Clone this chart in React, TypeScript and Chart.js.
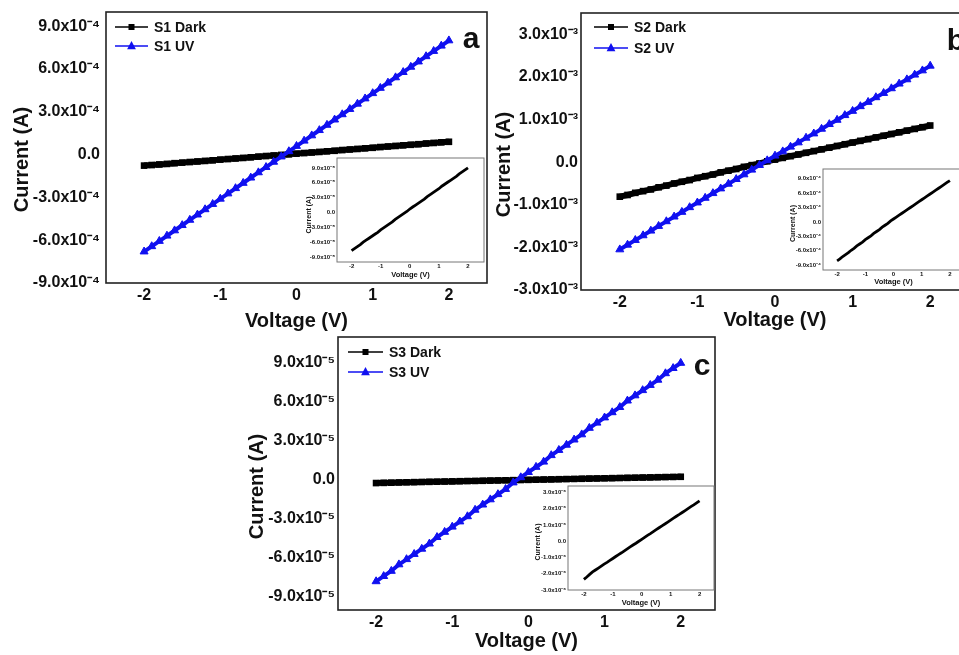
import React, { useEffect, useRef } from 'react';
import { Chart, registerables } from 'chart.js';

Chart.register(...registerables);

// ---------------- data ----------------
const VOLTAGE = [-2.0, -1.9, -1.8, -1.7, -1.6, -1.5, -1.4, -1.3, -1.2, -1.1, -1.0, -0.9, -0.8, -0.7, -0.6, -0.5, -0.4, -0.3, -0.2, -0.1, 0.0, 0.1, 0.2, 0.3, 0.4, 0.5, 0.6, 0.7, 0.8, 0.9, 1.0, 1.1, 1.2, 1.3, 1.4, 1.5, 1.6, 1.7, 1.8, 1.9, 2.0];

const S1_DARK = [-7.7e-5, -7.3e-5, -6.9e-5, -6.5e-5, -6.0e-5, -5.6e-5, -5.2e-5, -4.8e-5, -4.4e-5, -4.0e-5, -3.5e-5, -3.1e-5, -2.7e-5, -2.3e-5, -1.9e-5, -1.4e-5, -1.0e-5, -0.6e-5, -0.2e-5, 0.2e-5, 0.7e-5, 1.1e-5, 1.5e-5, 1.9e-5, 2.3e-5, 2.7e-5, 3.2e-5, 3.6e-5, 4.0e-5, 4.4e-5, 4.8e-5, 5.3e-5, 5.7e-5, 6.1e-5, 6.5e-5, 6.9e-5, 7.3e-5, 7.8e-5, 8.2e-5, 8.6e-5, 9.0e-5];
const S1_UV = [-6.80e-4, -6.43e-4, -6.06e-4, -5.69e-4, -5.32e-4, -4.95e-4, -4.58e-4, -4.21e-4, -3.84e-4, -3.47e-4, -3.10e-4, -2.73e-4, -2.36e-4, -1.99e-4, -1.62e-4, -1.25e-4, -0.88e-4, -0.51e-4, -0.14e-4, 0.23e-4, 0.60e-4, 0.97e-4, 1.34e-4, 1.71e-4, 2.08e-4, 2.45e-4, 2.82e-4, 3.19e-4, 3.56e-4, 3.93e-4, 4.30e-4, 4.67e-4, 5.04e-4, 5.41e-4, 5.78e-4, 6.15e-4, 6.52e-4, 6.89e-4, 7.26e-4, 7.63e-4, 8.00e-4];

const S2_DARK = [-0.81e-3, -0.77e-3, -0.72e-3, -0.68e-3, -0.64e-3, -0.59e-3, -0.55e-3, -0.50e-3, -0.46e-3, -0.42e-3, -0.37e-3, -0.33e-3, -0.29e-3, -0.24e-3, -0.20e-3, -0.16e-3, -0.11e-3, -0.07e-3, -0.03e-3, 0.02e-3, 0.06e-3, 0.10e-3, 0.14e-3, 0.18e-3, 0.22e-3, 0.26e-3, 0.30e-3, 0.34e-3, 0.38e-3, 0.42e-3, 0.46e-3, 0.50e-3, 0.54e-3, 0.58e-3, 0.62e-3, 0.66e-3, 0.70e-3, 0.74e-3, 0.78e-3, 0.82e-3, 0.86e-3];
const S2_UV = [-2.05e-3, -1.94e-3, -1.83e-3, -1.72e-3, -1.61e-3, -1.50e-3, -1.39e-3, -1.28e-3, -1.17e-3, -1.06e-3, -0.95e-3, -0.84e-3, -0.73e-3, -0.62e-3, -0.51e-3, -0.40e-3, -0.29e-3, -0.18e-3, -0.07e-3, 0.04e-3, 0.15e-3, 0.25e-3, 0.36e-3, 0.46e-3, 0.57e-3, 0.67e-3, 0.78e-3, 0.89e-3, 0.99e-3, 1.10e-3, 1.20e-3, 1.31e-3, 1.41e-3, 1.52e-3, 1.62e-3, 1.73e-3, 1.84e-3, 1.94e-3, 2.05e-3, 2.15e-3, 2.26e-3];

const S3_DARK = [-2.35e-6, -2.20e-6, -2.04e-6, -1.89e-6, -1.77e-6, -1.65e-6, -1.53e-6, -1.41e-6, -1.30e-6, -1.18e-6, -1.06e-6, -0.94e-6, -0.82e-6, -0.71e-6, -0.59e-6, -0.47e-6, -0.35e-6, -0.23e-6, -0.12e-6, 0.00e-6, 0.12e-6, 0.24e-6, 0.36e-6, 0.47e-6, 0.59e-6, 0.71e-6, 0.83e-6, 0.95e-6, 1.06e-6, 1.18e-6, 1.30e-6, 1.42e-6, 1.54e-6, 1.65e-6, 1.77e-6, 1.89e-6, 2.01e-6, 2.13e-6, 2.24e-6, 2.36e-6, 2.48e-6];
const S3_UV = [-7.8e-5, -7.4e-5, -7.0e-5, -6.5e-5, -6.1e-5, -5.7e-5, -5.3e-5, -4.9e-5, -4.4e-5, -4.0e-5, -3.6e-5, -3.2e-5, -2.8e-5, -2.3e-5, -1.9e-5, -1.5e-5, -1.1e-5, -0.7e-5, -0.2e-5, 0.2e-5, 0.6e-5, 1.0e-5, 1.4e-5, 1.9e-5, 2.3e-5, 2.7e-5, 3.1e-5, 3.5e-5, 4.0e-5, 4.4e-5, 4.8e-5, 5.2e-5, 5.6e-5, 6.1e-5, 6.5e-5, 6.9e-5, 7.3e-5, 7.7e-5, 8.2e-5, 8.6e-5, 9.0e-5];

const X_TICKS = [-2, -1, 0, 1, 2];
const X_TICK_LABELS = ['-2', '-1', '0', '1', '2'];

const A_Y_TICKS = [-9e-4, -6e-4, -3e-4, 0, 3e-4, 6e-4, 9e-4];
const A_Y_LABELS = ['-9.0x10⁻⁴', '-6.0x10⁻⁴', '-3.0x10⁻⁴', '0.0', '3.0x10⁻⁴', '6.0x10⁻⁴', '9.0x10⁻⁴'];
const B_Y_TICKS = [-3e-3, -2e-3, -1e-3, 0, 1e-3, 2e-3, 3e-3];
const B_Y_LABELS = ['-3.0x10⁻³', '-2.0x10⁻³', '-1.0x10⁻³', '0.0', '1.0x10⁻³', '2.0x10⁻³', '3.0x10⁻³'];
const C_Y_TICKS = [-9e-5, -6e-5, -3e-5, 0, 3e-5, 6e-5, 9e-5];
const C_Y_LABELS = ['-9.0x10⁻⁵', '-6.0x10⁻⁵', '-3.0x10⁻⁵', '0.0', '3.0x10⁻⁵', '6.0x10⁻⁵', '9.0x10⁻⁵'];

const INSET_A_Y_TICKS = [-9e-5, -6e-5, -3e-5, 0, 3e-5, 6e-5, 9e-5];
const INSET_A_Y_LABELS = ['-9.0x10⁻⁵', '-6.0x10⁻⁵', '-3.0x10⁻⁵', '0.0', '3.0x10⁻⁵', '6.0x10⁻⁵', '9.0x10⁻⁵'];
const INSET_B_Y_TICKS = [-9e-4, -6e-4, -3e-4, 0, 3e-4, 6e-4, 9e-4];
const INSET_B_Y_LABELS = ['-9.0x10⁻⁴', '-6.0x10⁻⁴', '-3.0x10⁻⁴', '0.0', '3.0x10⁻⁴', '6.0x10⁻⁴', '9.0x10⁻⁴'];
const INSET_C_Y_TICKS = [-3e-6, -2e-6, -1e-6, 0, 1e-6, 2e-6, 3e-6];
const INSET_C_Y_LABELS = ['-3.0x10⁻⁶', '-2.0x10⁻⁶', '-1.0x10⁻⁶', '0.0', '1.0x10⁻⁶', '2.0x10⁻⁶', '3.0x10⁻⁶'];

// ---------------- styling ----------------
const FONT = "'Liberation Sans', Arial, Helvetica, sans-serif";
const DARK_COLOR = '#000000';
const UV_COLOR = '#1010f0';
const TEXT_COLOR = '#111111';

function toPoints(values: number[]) {
  return VOLTAGE.map((v, i) => ({ x: v, y: values[i] }));
}

function darkSeries(label: string, values: number[]) {
  return {
    label,
    data: toPoints(values),
    borderColor: DARK_COLOR,
    backgroundColor: DARK_COLOR,
    borderWidth: 6,
    borderCapStyle: 'butt',
    pointStyle: 'rect',
    pointRadius: 4.7,
    pointBackgroundColor: DARK_COLOR,
    pointBorderColor: DARK_COLOR,
    pointBorderWidth: 0,
    tension: 0,
    order: 2,
  };
}

function uvSeries(label: string, values: number[]) {
  return {
    label,
    data: toPoints(values),
    borderColor: UV_COLOR,
    backgroundColor: UV_COLOR,
    borderWidth: 4,
    pointStyle: 'triangle',
    pointRadius: 4.6,
    pointBackgroundColor: UV_COLOR,
    pointBorderColor: UV_COLOR,
    pointBorderWidth: 1,
    tension: 0,
    order: 1,
  };
}

function insetSeries(label: string, values: number[]) {
  return {
    label,
    data: toPoints(values),
    borderColor: DARK_COLOR,
    backgroundColor: DARK_COLOR,
    borderWidth: 2.8,
    pointRadius: 0,
    tension: 0,
  };
}

// ---------------- plugins ----------------
function drawMarker(ctx: any, style: string, x: number, y: number, size: number, color: string) {
  ctx.fillStyle = color;
  if (style === 'rect') {
    ctx.fillRect(x - size / 2, y - size / 2, size, size);
  } else if (style === 'triangle') {
    ctx.beginPath();
    ctx.moveTo(x, y - size * 0.62);
    ctx.lineTo(x + size * 0.55, y + size * 0.42);
    ctx.lineTo(x - size * 0.55, y + size * 0.42);
    ctx.closePath();
    ctx.fill();
  }
}

const framePlugin = {
  id: 'frame',
  beforeDatasetsDraw(chart: any, _a: any, opts: any) {
    if (!opts || !opts.fill) return;
    const { ctx, chartArea } = chart;
    ctx.save();
    ctx.fillStyle = opts.fill;
    ctx.fillRect(chartArea.left, chartArea.top, chartArea.right - chartArea.left, chartArea.bottom - chartArea.top);
    ctx.restore();
  },
  afterDatasetsDraw(chart: any, _a: any, opts: any) {
    if (!opts) return;
    const { ctx, chartArea } = chart;
    const { left, top, right, bottom } = chartArea;
    ctx.save();
    ctx.strokeStyle = opts.color;
    ctx.lineWidth = opts.width;
    ctx.strokeRect(left, top, right - left, bottom - top);
    ctx.restore();
  },
};

const lineLegendPlugin = {
  id: 'lineLegend',
  afterDraw(chart: any, _a: any, opts: any) {
    if (!opts || !opts.show) return;
    const { ctx, chartArea } = chart;
    ctx.save();
    chart.data.datasets.forEach((ds: any, i: number) => {
      const y = chartArea.top + opts.dy + i * opts.rowGap;
      const x0 = chartArea.left + opts.dx;
      ctx.strokeStyle = ds.borderColor;
      ctx.lineWidth = 1.3;
      ctx.beginPath();
      ctx.moveTo(x0, y);
      ctx.lineTo(x0 + opts.lineLen, y);
      ctx.stroke();
      drawMarker(ctx, ds.pointStyle, x0 + opts.lineLen / 2, y, ds.pointStyle === 'rect' ? 6 : 8, ds.borderColor);
      ctx.fillStyle = TEXT_COLOR;
      ctx.font = `bold ${opts.fontSize}px ${FONT}`;
      ctx.textAlign = 'left';
      ctx.textBaseline = 'middle';
      ctx.fillText(ds.label, x0 + opts.lineLen + opts.gap, y + 1);
    });
    ctx.restore();
  },
};

const panelTagPlugin = {
  id: 'panelTag',
  afterDraw(chart: any, _a: any, opts: any) {
    if (!opts || !opts.text) return;
    const { ctx, chartArea } = chart;
    ctx.save();
    ctx.fillStyle = TEXT_COLOR;
    ctx.font = `bold ${opts.fontSize}px ${FONT}`;
    ctx.textAlign = 'center';
    ctx.textBaseline = 'alphabetic';
    ctx.fillText(opts.text, chartArea.right - opts.dxFromRight, chartArea.top + opts.dyFromTop);
    ctx.restore();
  },
};

const yTitlePlugin = {
  id: 'yTitle',
  afterDraw(chart: any, _a: any, opts: any) {
    if (!opts || !opts.text) return;
    const { ctx, chartArea } = chart;
    const cy = (chartArea.top + chartArea.bottom) / 2 + opts.dy;
    ctx.save();
    ctx.translate(opts.x, cy);
    ctx.rotate(-Math.PI / 2);
    ctx.fillStyle = TEXT_COLOR;
    ctx.font = `bold ${opts.fontSize}px ${FONT}`;
    ctx.textAlign = 'center';
    ctx.textBaseline = 'middle';
    ctx.fillText(opts.text, 0, 0);
    ctx.restore();
  },
};

// ---------------- config ----------------
function makeConfig(p: any) {
  const tickFont = { family: FONT, size: p.tickSize, weight: 'bold' };
  const titleFont = { family: FONT, size: p.xTitleSize, weight: 'bold' };
  return {
    type: 'line',
    data: { datasets: p.datasets },
    options: {
      responsive: false,
      animation: false,
      devicePixelRatio: 1,
      events: [],
      layout: { autoPadding: false, padding: { left: 0, top: p.padTop, right: p.padRight, bottom: 0 } },
      plugins: {
        legend: { display: false },
        tooltip: { enabled: false },
        frame: { color: p.frameColor, width: p.frameWidth, fill: p.plotFill || null },
        lineLegend: p.legend || { show: false },
        panelTag: p.tag || { text: '' },
        yTitle: { text: 'Current (A)', x: p.yTitleX, dy: p.yTitleDy, fontSize: p.yTitleSize },
      },
      scales: {
        x: {
          type: 'linear',
          min: p.xMin,
          max: p.xMax,
          grid: { display: false, drawTicks: false },
          border: { display: false },
          afterBuildTicks: (axis: any) => {
            axis.ticks = X_TICKS.map((v) => ({ value: v }));
          },
          afterFit: (axis: any) => {
            axis.height = p.xAxisHeight;
            axis.paddingLeft = 0;
            axis.paddingRight = 0;
          },
          ticks: {
            autoSkip: false,
            maxRotation: 0,
            padding: p.xTickPad,
            color: TEXT_COLOR,
            font: tickFont,
            callback: (_v: any, i: number) => X_TICK_LABELS[i],
          },
          title: {
            display: true,
            text: 'Voltage (V)',
            color: TEXT_COLOR,
            font: titleFont,
            padding: { top: 0, bottom: p.xTitlePad },
          },
        },
        y: {
          type: 'linear',
          min: p.yMin,
          max: p.yMax,
          grid: { display: false, drawTicks: false },
          border: { display: false },
          afterBuildTicks: (axis: any) => {
            axis.ticks = p.yTicks.map((v: number) => ({ value: v }));
          },
          afterFit: (axis: any) => {
            axis.width = p.yAxisWidth;
            axis.paddingTop = 0;
            axis.paddingBottom = 0;
          },
          ticks: {
            autoSkip: false,
            padding: p.yTickPad,
            color: TEXT_COLOR,
            font: tickFont,
            callback: (_v: any, i: number) => p.yLabels[i],
          },
          title: { display: false },
        },
      },
    },
    plugins: [framePlugin, lineLegendPlugin, panelTagPlugin, yTitlePlugin],
  };
}

// ---------------- panels ----------------
const MAIN_COMMON = {
  tickSize: 16,
  xTitleSize: 20,
  yTitleSize: 20,
  xTickPad: 3,
  frameColor: '#222',
  frameWidth: 1.6,
  xMin: -2.5,
  xMax: 2.5,
};

const INSET_COMMON = {
  tickSize: 6,
  xTitleSize: 7.5,
  yTitleSize: 7,
  xTickPad: 1,
  yTickPad: 2,
  frameColor: '#777',
  frameWidth: 1,
  plotFill: '#ffffff',
  padTop: 6,
  padRight: 3,
};

const PANELS = [
  {
    key: 'a', left: 0, top: 0, w: 490, h: 335,
    ...MAIN_COMMON,
    datasets: [darkSeries('S1 Dark', S1_DARK), uvSeries('S1 UV', S1_UV)],
    yMin: -9e-4, yMax: 1.0e-3, yTicks: A_Y_TICKS, yLabels: A_Y_LABELS,
    padTop: 12, padRight: 3, yAxisWidth: 106, xAxisHeight: 52,
    yTickPad: 6, xTitlePad: 2, yTitleX: 22, yTitleDy: 12,
    legend: { show: true, dx: 9, dy: 15, rowGap: 19, lineLen: 33, gap: 6, fontSize: 14 },
    tag: { text: 'a', fontSize: 30, dxFromRight: 16, dyFromTop: 36 },
  },
  {
    key: 'b', left: 490, top: 0, w: 510, h: 335,
    ...MAIN_COMMON,
    datasets: [darkSeries('S2 Dark', S2_DARK), uvSeries('S2 UV', S2_UV)],
    yMin: -3e-3, yMax: 3.5e-3, yTicks: B_Y_TICKS, yLabels: B_Y_LABELS,
    padTop: 13, padRight: 31, yAxisWidth: 91, xAxisHeight: 45,
    yTickPad: 3, xTitlePad: 3, yTitleX: 14, yTitleDy: 13,
    legend: { show: true, dx: 13, dy: 14, rowGap: 21, lineLen: 34, gap: 6, fontSize: 14 },
    tag: { text: 'b', fontSize: 30, dxFromRight: 13, dyFromTop: 37 },
  },
  {
    key: 'c', left: 240, top: 330, w: 480, h: 325,
    ...MAIN_COMMON,
    xMax: 2.45,
    datasets: [darkSeries('S3 Dark', S3_DARK), uvSeries('S3 UV', S3_UV)],
    yMin: -1.0e-4, yMax: 1.1e-4, yTicks: C_Y_TICKS, yLabels: C_Y_LABELS,
    padTop: 7, padRight: 5, yAxisWidth: 98, xAxisHeight: 45,
    yTickPad: 3, xTitlePad: 2, yTitleX: 17, yTitleDy: 13,
    legend: { show: true, dx: 10, dy: 15, rowGap: 20, lineLen: 35, gap: 6, fontSize: 14 },
    tag: { text: 'c', fontSize: 30, dxFromRight: 13, dyFromTop: 38 },
  },
  {
    key: 'ia', left: 298, top: 152, w: 189, h: 132,
    ...INSET_COMMON,
    datasets: [insetSeries('S1 Dark', S1_DARK)],
    xMin: -2.5, xMax: 2.55, yMin: -1.0e-4, yMax: 1.1e-4,
    yTicks: INSET_A_Y_TICKS, yLabels: INSET_A_Y_LABELS,
    yAxisWidth: 39, xAxisHeight: 22, xTitlePad: 4.5, yTitleX: 11, yTitleDy: 5,
  },
  {
    key: 'ib', left: 785, top: 163, w: 182, h: 129,
    ...INSET_COMMON,
    datasets: [insetSeries('S2 Dark', S2_DARK)],
    xMin: -2.5, xMax: 2.5, yMin: -1.0e-3, yMax: 1.1e-3,
    yTicks: INSET_B_Y_TICKS, yLabels: INSET_B_Y_LABELS,
    yAxisWidth: 38, xAxisHeight: 22, xTitlePad: 5.5, yTitleX: 8, yTitleDy: 4,
  },
  {
    key: 'ic', left: 532, top: 480, w: 185, h: 130,
    ...INSET_COMMON,
    datasets: [insetSeries('S3 Dark', S3_DARK)],
    xMin: -2.55, xMax: 2.5, yMin: -3.0e-6, yMax: 3.4e-6,
    yTicks: INSET_C_Y_TICKS, yLabels: INSET_C_Y_LABELS,
    yAxisWidth: 36, xAxisHeight: 20, xTitlePad: 2.5, yTitleX: 6, yTitleDy: 4,
  },
];

function ChartCanvas({ spec }: { spec: any }) {
  const ref = useRef<HTMLCanvasElement | null>(null);
  useEffect(() => {
    if (!ref.current) return;
    const chart = new Chart(ref.current, makeConfig(spec) as any);
    return () => chart.destroy();
  }, [spec]);
  return (
    <canvas
      ref={ref}
      width={spec.w}
      height={spec.h}
      style={{ position: 'absolute', left: spec.left, top: spec.top, width: spec.w, height: spec.h }}
    />
  );
}

export default function App() {
  return (
    <div
      style={{
        position: 'absolute',
        left: 0,
        top: 0,
        width: 959,
        height: 655,
        overflow: 'hidden',
        background: '#ffffff',
      }}
    >
      {PANELS.map((p) => (
        <ChartCanvas key={p.key} spec={p} />
      ))}
    </div>
  );
}
